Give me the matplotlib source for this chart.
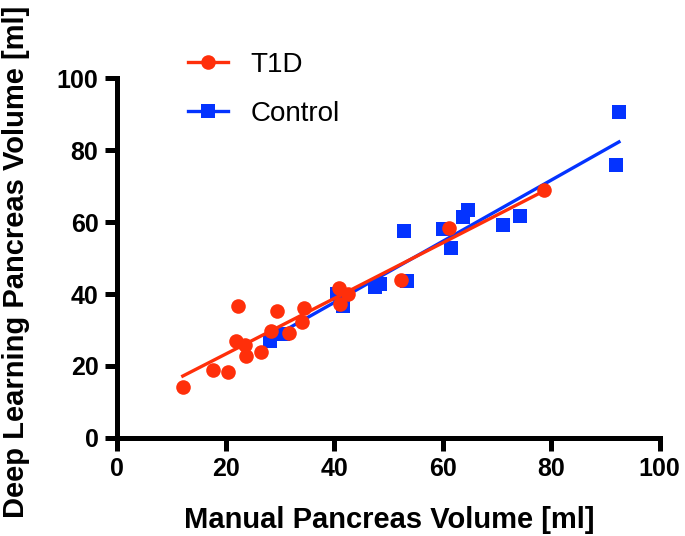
import matplotlib
matplotlib.use("Agg")
import matplotlib.pyplot as plt
from matplotlib.lines import Line2D

plt.rcParams['font.family'] = ['Liberation Sans', 'DejaVu Sans']

# ---- data ----
t1d_x = [12.1, 17.7, 20.5, 22.2, 21.9, 23.6, 23.8, 26.6, 28.4, 29.4, 31.7, 34.0, 34.4,
         40.9, 42.6, 41.1, 52.4, 61.1, 78.6]
t1d_y = [14.1, 18.9, 18.3, 36.8, 27.0, 25.7, 22.9, 24.0, 29.8, 35.4, 29.2, 32.1, 36.0,
         41.6, 40.0, 37.2, 44.0, 58.5, 69.0]
ctrl_x = [28.2, 30.6, 40.5, 41.7, 47.5, 48.4, 53.4, 52.9, 60.1, 61.6, 63.8, 64.6, 71.1,
          74.3, 92.0, 92.5]
ctrl_y = [27.0, 28.9, 40.0, 36.8, 41.9, 42.8, 43.5, 57.6, 58.1, 52.9, 61.3, 63.4, 59.3,
          61.8, 75.8, 90.7]
t1d_fit_x = [12.1, 78.6]
t1d_fit_y = [17.2, 68.6]
ctrl_fit_x = [28.2, 92.5]
ctrl_fit_y = [27.6, 82.3]
xticks = [0, 20, 40, 60, 80, 100]
yticks = [0, 20, 40, 60, 80, 100]

red = '#FF2F0A'
blue = '#0433FF'

fig = plt.figure(figsize=(6.85, 5.36), dpi=100)
ax = fig.add_axes([0.171, 0.183, 0.792, 0.671])

ax.plot(ctrl_fit_x, ctrl_fit_y, color=blue, lw=2.4, zorder=2, clip_on=False)
ax.plot(ctrl_x, ctrl_y, 's', color=blue, ms=9.5, mew=0, zorder=3, clip_on=False)
ax.plot(t1d_fit_x, t1d_fit_y, color=red, lw=2.4, zorder=4, clip_on=False)
ax.plot(t1d_x, t1d_y, 'o', color=red, ms=10.5, mew=0, zorder=5, clip_on=False)

ax.set_xlim(0, 100)
ax.set_ylim(0, 100)
ax.set_xticks(xticks)
ax.set_yticks(yticks)

for s in ['top', 'right']:
    ax.spines[s].set_visible(False)
for s in ['left', 'bottom']:
    ax.spines[s].set_linewidth(3.6)
ax.tick_params(axis='both', width=3.6, length=9, direction='out')
ax.tick_params(axis='x', pad=5)
ax.tick_params(axis='y', pad=4.5)
ax.set_xticklabels([str(t) for t in xticks])
ax.set_yticklabels([str(t) for t in yticks])
for lab in ax.get_xticklabels() + ax.get_yticklabels():
    lab.set_fontfamily('Liberation Sans')
    lab.set_fontweight('bold')
    lab.set_fontsize(18)

fig.text(389 / 685, 1 - 528 / 536, 'Manual Pancreas Volume [ml]', ha='center',
         va='baseline', fontsize=21, fontweight='bold', family='Liberation Sans')
fig.text(16 / 685, 1 - 261.5 / 536, 'Deep Learning Pancreas Volume [ml]', ha='center',
         va='center', rotation=90, fontsize=21, fontweight='bold',
         family='Liberation Sans')

handles = [Line2D([0], [0], color=red, lw=2.4, marker='o', ms=10.5, mew=0),
           Line2D([0], [0], color=blue, lw=2.4, marker='s', ms=9.5, mew=0)]
fig.legend(handles, ['T1D', 'Control'], loc='upper left',
           bbox_to_anchor=(188 / 685, 1 - 51.5 / 536), frameon=False,
           prop=dict(family='Liberation Sans', size=20),
           handlelength=1.45, labelspacing=0.85, handletextpad=0.8,
           borderpad=0, borderaxespad=0)

fig.savefig('out.png', dpi=100)
